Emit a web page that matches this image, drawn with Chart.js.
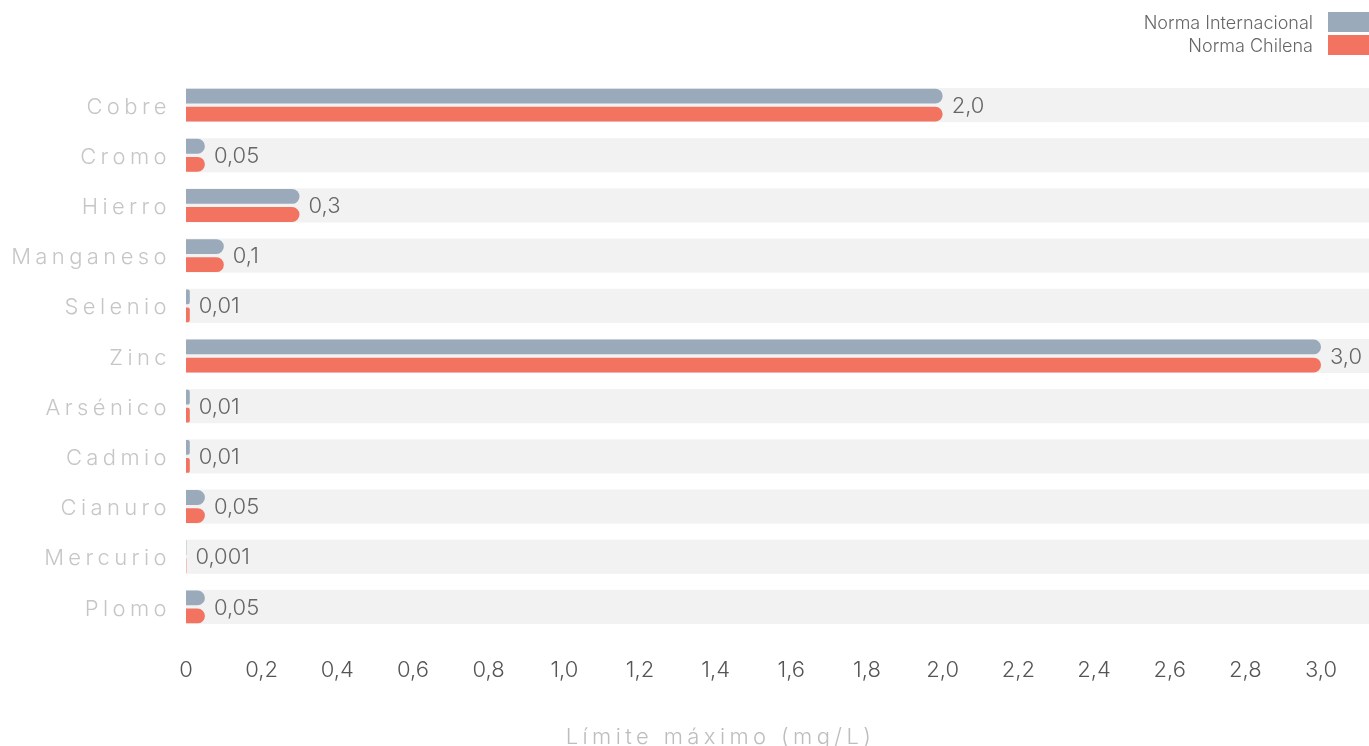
<!DOCTYPE html>
<html>
<head>
<meta charset="utf-8">
<script src="https://cdn.jsdelivr.net/npm/chart.js@4"></script>
<style>
  body { margin: 0; background: #fff; font-family: 'Inter', 'Roboto', sans-serif; }
  #wrap { position: relative; width: 1369px; height: 746px; }
  #legend { position: absolute; top: 12px; right: 0; font-size: 18px; font-weight: 300; color: #666; }
  #legend .row { display: flex; align-items: center; justify-content: flex-end; height: 20px; margin-bottom: 3px; }
  #legend .box { width: 41px; height: 20px; margin-left: 15px; }
</style>
</head>
<body>
<div id="wrap">
  <canvas id="chart" width="1369" height="746"></canvas>
  <div id="legend"></div>
</div>
<script>
const categories = ['Cobre', 'Cromo', 'Hierro', 'Manganeso', 'Selenio', 'Zinc', 'Arsénico', 'Cadmio', 'Cianuro', 'Mercurio', 'Plomo'];
const normaInternacional = [2.0, 0.05, 0.3, 0.1, 0.01, 3.0, 0.01, 0.01, 0.05, 0.001, 0.05];
const normaChilena = [2.0, 0.05, 0.3, 0.1, 0.01, 3.0, 0.01, 0.01, 0.05, 0.001, 0.05];
const seriesNames = ['Norma Internacional', 'Norma Chilena'];
const seriesColors = ['#9AAABB', '#F27360'];
const axisTitle = 'Límite máximo (mg/L)';

const FONT = "'Inter', 'Roboto', sans-serif";

const fmt = (v) => {
  if (v === 0) return '0';
  return (Number.isInteger(v) ? v.toFixed(1) : String(v)).replace('.', ',');
};

// legend (html)
const legendEl = document.getElementById('legend');
seriesNames.forEach((name, i) => {
  const row = document.createElement('div');
  row.className = 'row';
  row.innerHTML = '<span>' + name + '</span><span class="box" style="background:' + seriesColors[i] + '"></span>';
  legendEl.appendChild(row);
});

const bands = {
  id: 'bands',
  beforeDatasetsDraw(chart) {
    const { ctx, chartArea, scales: { y } } = chart;
    const step = y.getPixelForValue(1) - y.getPixelForValue(0);
    const h = step * 0.68;
    ctx.save();
    ctx.fillStyle = '#F2F2F2';
    categories.forEach((c, i) => {
      const cy = y.getPixelForValue(i);
      ctx.fillRect(chartArea.left, cy - h / 2, chart.width - chartArea.left, h);
    });
    ctx.restore();
  }
};

const texts = {
  id: 'texts',
  afterDatasetsDraw(chart) {
    const { ctx, chartArea, scales: { y } } = chart;
    ctx.save();
    // value labels
    ctx.font = '300 22px ' + FONT;
    ctx.fillStyle = '#666';
    ctx.textAlign = 'left';
    ctx.textBaseline = 'middle';
    categories.forEach((c, i) => {
      let xEnd = chartArea.left;
      chart.data.datasets.forEach((ds, d) => {
        const bar = chart.getDatasetMeta(d).data[i];
        xEnd = Math.max(xEnd, bar.x);
      });
      ctx.fillText(fmt(normaInternacional[i]), xEnd + 9, y.getPixelForValue(i) + 1);
    });
    // category labels
    ctx.font = '300 22px ' + FONT;
    ctx.fillStyle = '#C6C6C6';
    ctx.letterSpacing = '4.4px';
    ctx.textAlign = 'right';
    categories.forEach((c, i) => {
      ctx.fillText(c, chartArea.left - 15, y.getPixelForValue(i) + 2);
    });
    // axis title
    ctx.fillStyle = '#BDBDBD';
    ctx.textAlign = 'center';
    ctx.fillText(axisTitle, (chartArea.left + chartArea.right) / 2 - 33, chart.height - 9);
    ctx.restore();
  }
};

new Chart(document.getElementById('chart'), {
  type: 'bar',
  data: {
    labels: categories,
    datasets: [
      {
        label: seriesNames[0],
        data: normaInternacional,
        backgroundColor: seriesColors[0],
        borderRadius: 8,
        borderSkipped: 'start',
        categoryPercentage: 0.72,
        barPercentage: 0.82
      },
      {
        label: seriesNames[1],
        data: normaChilena,
        backgroundColor: seriesColors[1],
        borderRadius: 8,
        borderSkipped: 'start',
        categoryPercentage: 0.72,
        barPercentage: 0.82
      }
    ]
  },
  options: {
    indexAxis: 'y',
    responsive: false,
    animation: false,
    layout: { padding: { top: 80, right: 48, left: 0, bottom: 0 } },
    plugins: {
      legend: { display: false },
      tooltip: { enabled: false }
    },
    scales: {
      x: {
        min: 0,
        max: 3.0,
        grid: { display: false, drawTicks: false },
        border: { display: false },
        ticks: {
          stepSize: 0.2,
          padding: 25,
          color: '#555',
          font: { family: FONT, size: 22, weight: 300 },
          callback: (val) => fmt(Math.round(val * 10) / 10)
        },
        afterFit: (scale) => { scale.height = 114; }
      },
      y: {
        grid: { display: false, drawTicks: false },
        border: { display: false },
        ticks: { display: false },
        afterFit: (scale) => { scale.width = 186; }
      }
    }
  },
  plugins: [bands, texts]
});
</script>
</body>
</html>
